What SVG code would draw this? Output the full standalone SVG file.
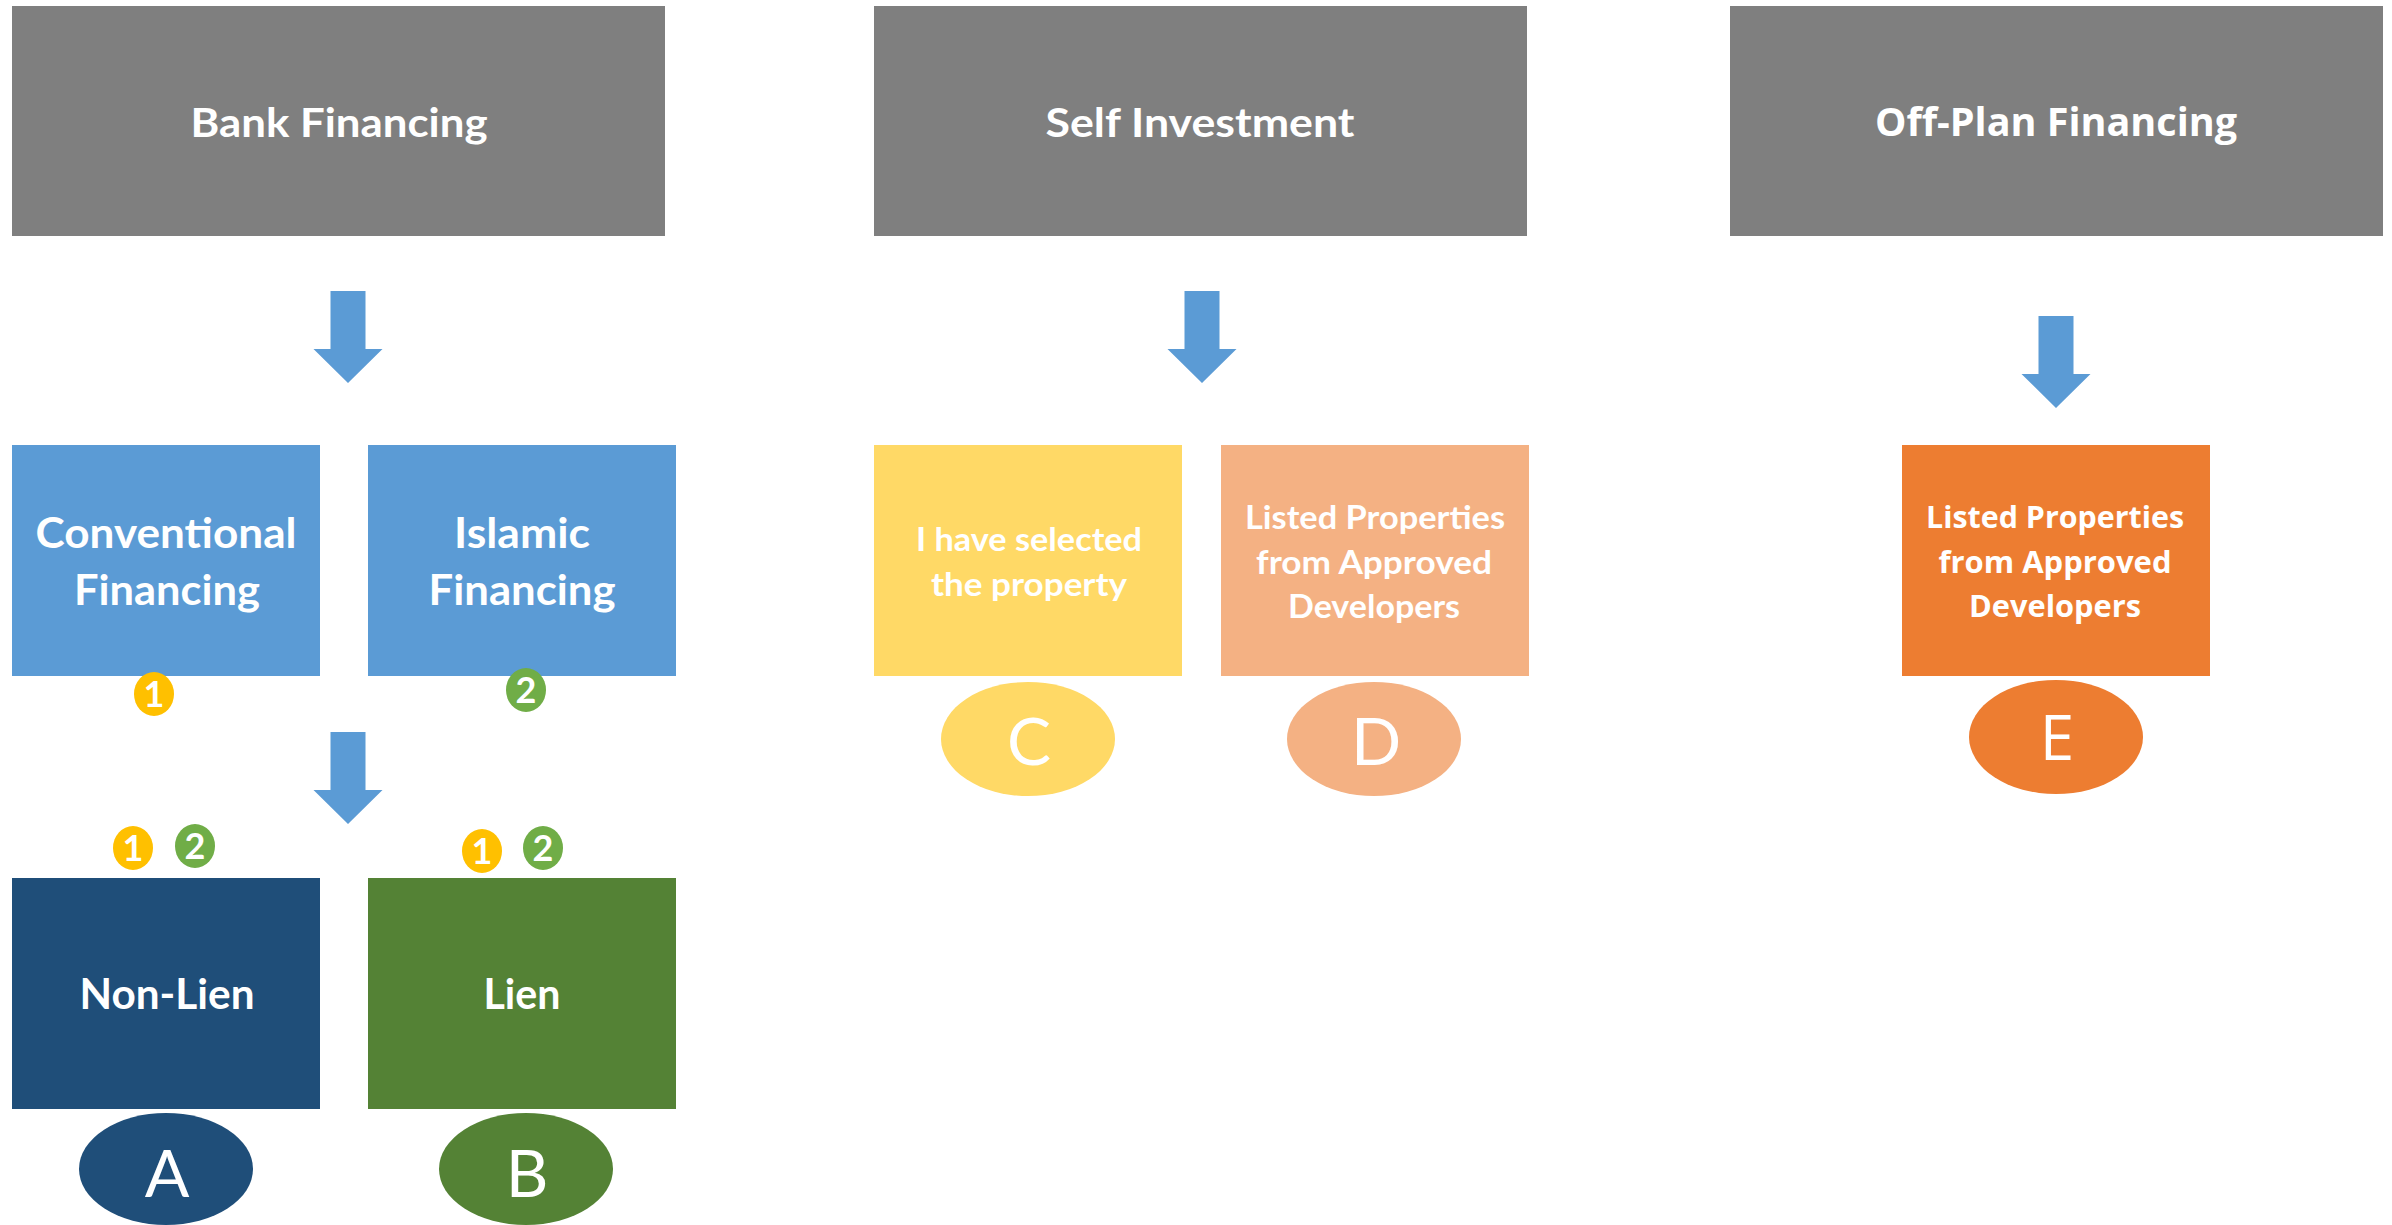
<svg xmlns="http://www.w3.org/2000/svg" width="2392" height="1225" viewBox="0 0 2392 1225">
  <style>
    .hdr { fill: #7F7F7F; }
    .lbl { fill: #FFFFFF; font-family: Lato, "Liberation Sans", sans-serif; font-weight: bold; text-anchor: middle; }
    .seg { fill: #FFFFFF; font-family: "Open Sans", "Noto Sans", sans-serif; font-weight: bold; text-anchor: middle; }
    .let { fill: #FFFFFF; font-family: Lato, "Liberation Sans", sans-serif; font-weight: normal; text-anchor: middle; font-size: 66px; }
    .lets { fill: #FFFFFF; font-family: "Open Sans", "Noto Sans", sans-serif; font-weight: normal; text-anchor: middle; font-size: 62px; }
    .num { fill: #FFFFFF; font-family: Lato, "Liberation Sans", sans-serif; font-weight: bold; text-anchor: middle; font-size: 36px; }
    .b1 { fill: #FFC000; }
    .b2 { fill: #70AD47; }
    .blue { fill: #5B9BD5; }
    .navy { fill: #1F4E79; }
    .green { fill: #548235; }
    .yellow { fill: #FFD966; }
    .peach { fill: #F4B183; }
    .orange { fill: #ED7D31; }
    .arrow { fill: #5B9BD5; }
  </style>
  <defs>
    <path id="blockArrow" d="M-17.5,0 H17.5 V58 H34.5 L0,92 L-34.5,58 H-17.5 Z"/>
  </defs>
  <rect width="2392" height="1225" fill="#FFFFFF"/>

  <g id="connectors">
    <use href="#blockArrow" class="arrow" x="348" y="291"/>
    <use href="#blockArrow" class="arrow" x="348" y="732"/>
    <use href="#blockArrow" class="arrow" x="1202" y="291"/>
    <use href="#blockArrow" class="arrow" x="2056" y="316"/>
  </g>

  <g id="bank-financing">
    <rect class="hdr" x="12" y="6" width="653" height="230"/>
    <text class="lbl" x="339" y="137" font-size="40" textLength="297" lengthAdjust="spacingAndGlyphs">Bank Financing</text>
  </g>
  <g id="self-investment">
    <rect class="hdr" x="874" y="6" width="653" height="230"/>
    <text class="lbl" x="1200" y="137" font-size="40" textLength="309" lengthAdjust="spacingAndGlyphs">Self Investment</text>
  </g>
  <g id="off-plan-financing">
    <rect class="hdr" x="1730" y="6" width="653" height="230"/>
    <text class="seg" x="2056" y="136" font-size="39" textLength="362" lengthAdjust="spacingAndGlyphs">Off-Plan Financing</text>
  </g>

  <g id="conventional-financing">
    <rect class="blue" x="12" y="445" width="308" height="231"/>
    <text class="lbl" x="166" y="548" font-size="42" textLength="261" lengthAdjust="spacingAndGlyphs">Conventional</text>
    <text class="lbl" x="167" y="605" font-size="42" textLength="186" lengthAdjust="spacingAndGlyphs">Financing</text>
  </g>
  <g id="islamic-financing">
    <rect class="blue" x="368" y="445" width="308" height="231"/>
    <text class="lbl" x="522" y="548" font-size="42" textLength="136" lengthAdjust="spacingAndGlyphs">Islamic</text>
    <text class="lbl" x="522" y="605" font-size="42" textLength="187" lengthAdjust="spacingAndGlyphs">Financing</text>
  </g>
  <g id="badge-conventional-1">
    <ellipse class="b1" cx="154" cy="694" rx="20" ry="22"/>
    <text class="num" x="154" y="707">1</text>
  </g>
  <g id="badge-islamic-2">
    <ellipse class="b2" cx="526" cy="690" rx="20" ry="22"/>
    <text class="num" x="526" y="703">2</text>
  </g>

  <g id="badge-nonlien-1">
    <ellipse class="b1" cx="133" cy="848" rx="20" ry="22"/>
    <text class="num" x="133" y="861">1</text>
  </g>
  <g id="badge-nonlien-2">
    <ellipse class="b2" cx="195" cy="846" rx="20" ry="22"/>
    <text class="num" x="195" y="859">2</text>
  </g>
  <g id="badge-lien-1">
    <ellipse class="b1" cx="482" cy="851" rx="20" ry="22"/>
    <text class="num" x="482" y="864">1</text>
  </g>
  <g id="badge-lien-2">
    <ellipse class="b2" cx="543" cy="848" rx="20" ry="22"/>
    <text class="num" x="543" y="861">2</text>
  </g>

  <g id="non-lien">
    <rect class="navy" x="12" y="878" width="308" height="231"/>
    <text class="lbl" x="167" y="1009" font-size="42" textLength="175" lengthAdjust="spacingAndGlyphs">Non-Lien</text>
  </g>
  <g id="lien">
    <rect class="green" x="368" y="878" width="308" height="231"/>
    <text class="lbl" x="522" y="1009" font-size="42" textLength="77" lengthAdjust="spacingAndGlyphs">Lien</text>
  </g>
  <g id="ellipse-a">
    <ellipse class="navy" cx="166" cy="1169" rx="87" ry="56"/>
    <text class="let" x="167" y="1197">A</text>
  </g>
  <g id="ellipse-b">
    <ellipse class="green" cx="526" cy="1169" rx="87" ry="56"/>
    <text class="let" x="527" y="1197">B</text>
  </g>

  <g id="selected-property">
    <rect class="yellow" x="874" y="445" width="308" height="231"/>
    <text class="lbl" x="1029" y="551" font-size="33" textLength="226" lengthAdjust="spacingAndGlyphs">I have selected</text>
    <text class="lbl" x="1029" y="596" font-size="33" textLength="196" lengthAdjust="spacingAndGlyphs">the property</text>
  </g>
  <g id="listed-approved-self">
    <rect class="peach" x="1221" y="445" width="308" height="231"/>
    <text class="lbl" x="1375" y="529" font-size="33" textLength="260" lengthAdjust="spacingAndGlyphs">Listed Properties</text>
    <text class="lbl" x="1374" y="574" font-size="33" textLength="236" lengthAdjust="spacingAndGlyphs">from Approved</text>
    <text class="lbl" x="1374" y="618" font-size="33" textLength="172" lengthAdjust="spacingAndGlyphs">Developers</text>
  </g>
  <g id="ellipse-c">
    <ellipse class="yellow" cx="1028" cy="739" rx="87" ry="57"/>
    <text class="let" x="1029" y="765">C</text>
  </g>
  <g id="ellipse-d">
    <ellipse class="peach" cx="1374" cy="739" rx="87" ry="57"/>
    <text class="let" x="1376" y="765">D</text>
  </g>

  <g id="listed-approved-offplan">
    <rect class="orange" x="1902" y="445" width="308" height="231"/>
    <text class="seg" x="2055" y="528" font-size="30" textLength="258" lengthAdjust="spacingAndGlyphs">Listed Properties</text>
    <text class="seg" x="2055" y="573" font-size="30" textLength="233" lengthAdjust="spacingAndGlyphs">from Approved</text>
    <text class="seg" x="2055" y="617" font-size="30" textLength="172" lengthAdjust="spacingAndGlyphs">Developers</text>
  </g>
  <g id="ellipse-e">
    <ellipse class="orange" cx="2056" cy="737" rx="87" ry="57"/>
    <text class="lets" x="2057" y="760">E</text>
  </g>
</svg>
